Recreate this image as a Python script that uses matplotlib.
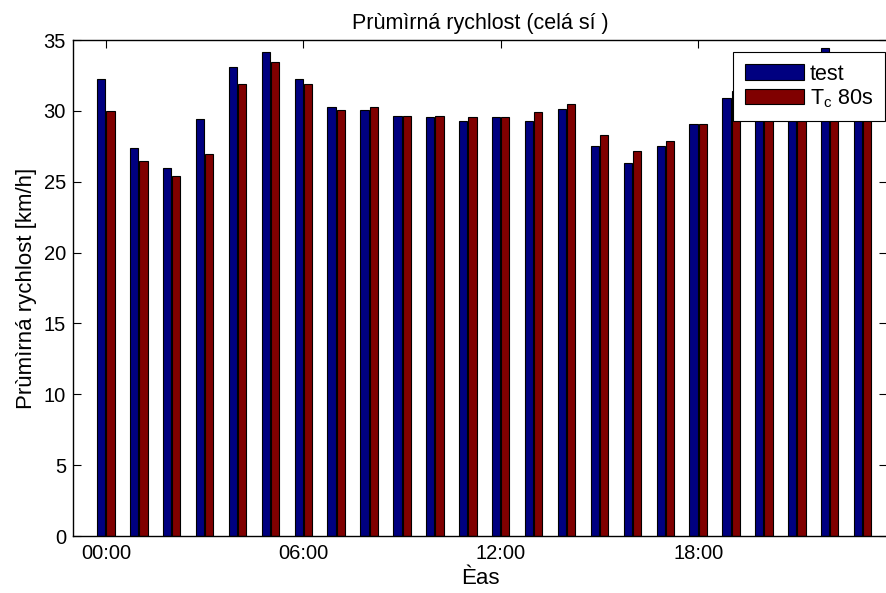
import matplotlib.pyplot as plt
import numpy as np

plt.rcParams['font.family'] = ['Liberation Sans', 'DejaVu Sans']

# hourly average speed
hours = np.arange(24)
test_speed = [32.25, 27.4, 26.0, 29.4, 33.1, 34.15, 32.25, 30.3, 30.05, 29.65,
              29.55, 29.25, 29.6, 29.3, 30.1, 27.55, 26.35, 27.5, 29.1, 30.9,
              30.6, 31.6, 34.45, 32.0]
tc80_speed = [30.0, 26.45, 25.4, 26.95, 31.9, 33.45, 31.9, 30.05, 30.3, 29.65,
              29.65, 29.55, 29.55, 29.9, 30.45, 28.3, 27.2, 27.9, 29.1, 31.4,
              30.9, 31.9, 33.2, 32.2]
tick_hours = [0, 6, 12, 18]
tick_labels = ['00:00', '06:00', '12:00', '18:00']
series_labels = ['test', '$\\mathregular{T_c}$ 80s']

fig = plt.figure(figsize=(8.87, 5.93), dpi=100)
ax = fig.add_axes([73 / 887, 1 - 536 / 593, (887 - 73) / 887, (536 - 40) / 593])

width = 0.25
ax.bar(hours - 0.14, test_speed, width, color='#000080', edgecolor='black',
       linewidth=0.8, label=series_labels[0], zorder=2)
ax.bar(hours + 0.14, tc80_speed, width, color='#800000', edgecolor='black',
       linewidth=0.8, label=series_labels[1], zorder=2)

ax.set_xlim(-1.0, 23.74)
ax.set_ylim(0, 35)
ax.set_yticks(np.arange(0, 36, 5))
ax.set_xticks(tick_hours)
ax.set_xticklabels(tick_labels)
ax.tick_params(direction='in', top=True, right=True, labelsize=14.5,
               length=6, width=0.8, zorder=5)
ax.tick_params(axis='x', pad=6)
ax.tick_params(axis='y', pad=5)
for s in ax.spines.values():
    s.set_linewidth(1.0)
    s.set_zorder(5)

ax.set_title('Prùmìrná rychlost (celá sí )', fontsize=15.5, pad=8)
ax.set_xlabel('Èas', fontsize=16, labelpad=3)
ax.set_ylabel('Prùmìrná rychlost [km/h]', fontsize=16, labelpad=5)

# legend sits in the top right corner, square black frame
leg = ax.legend(loc='upper right', bbox_to_anchor=(885 / 887, 1 - 52 / 593),
                bbox_transform=fig.transFigure, borderaxespad=0,
                fontsize=15.5, fancybox=False, framealpha=1, edgecolor='black',
                handlelength=2.75, handleheight=0.75, handletextpad=0.28,
                borderpad=0.55, labelspacing=0.1)
leg.get_frame().set_linewidth(0.8)
leg.set_zorder(10)

plt.savefig('out.png', dpi=100)
plt.close()
